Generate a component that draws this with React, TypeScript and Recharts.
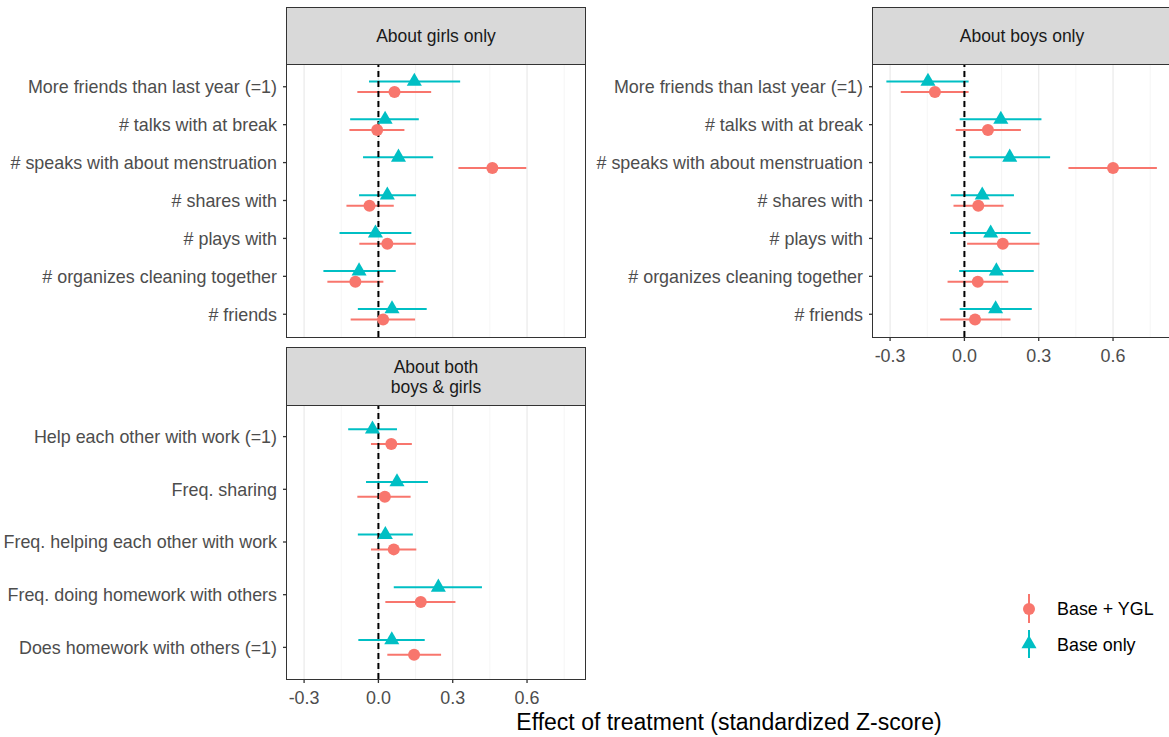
import { ScatterChart, Scatter, XAxis, YAxis, ErrorBar, ReferenceLine } from "recharts";

const FONT = '"Liberation Sans", Arial, Helvetica, sans-serif';
const RED = "#F8766D";
const TEAL = "#00BFC4";
const BORDER = "#333333";

// x scale shared by all panels
const xTicks = [-0.3, 0, 0.3, 0.6];
const xMinor = [-0.15, 0.15, 0.45, 0.75];
const xDomain = [-0.369, 0.834];

// rows, top to bottom
const peerItems = [
  "More friends than last year (=1)",
  "# talks with at break",
  "# speaks with about menstruation",
  "# shares with",
  "# plays with",
  "# organizes cleaning together",
  "# friends",
];
const bothItems = [
  "Help each other with work (=1)",
  "Freq. sharing",
  "Freq. helping each other with work",
  "Freq. doing homework with others",
  "Does homework with others (=1)",
];

// About girls only
const girlsYglEst = [0.065, -0.005, 0.46, -0.036, 0.036, -0.093, 0.019];
const girlsYglLo = [-0.085, -0.117, 0.323, -0.129, -0.077, -0.206, -0.112];
const girlsYglHi = [0.213, 0.105, 0.597, 0.062, 0.151, 0.02, 0.148];
const girlsBaseEst = [0.145, 0.027, 0.081, 0.036, -0.012, -0.078, 0.055];
const girlsBaseLo = [-0.038, -0.114, -0.062, -0.078, -0.157, -0.222, -0.083];
const girlsBaseHi = [0.33, 0.163, 0.221, 0.152, 0.133, 0.07, 0.195];

// About boys only
const boysYglEst = [-0.119, 0.095, 0.6, 0.056, 0.155, 0.054, 0.043];
const boysYglLo = [-0.257, -0.035, 0.42, -0.044, 0.011, -0.068, -0.098];
const boysYglHi = [0.017, 0.228, 0.777, 0.158, 0.303, 0.177, 0.186];
const boysBaseEst = [-0.147, 0.147, 0.183, 0.072, 0.106, 0.129, 0.126];
const boysBaseLo = [-0.315, -0.019, 0.02, -0.055, -0.058, -0.021, -0.019];
const boysBaseHi = [0.017, 0.311, 0.346, 0.2, 0.267, 0.28, 0.272];

// About both boys & girls
const bothYglEst = [0.052, 0.026, 0.062, 0.171, 0.144];
const bothYglLo = [-0.03, -0.085, -0.03, 0.028, 0.036];
const bothYglHi = [0.135, 0.13, 0.153, 0.311, 0.253];
const bothBaseEst = [-0.024, 0.075, 0.028, 0.242, 0.054];
const bothBaseLo = [-0.122, -0.05, -0.083, 0.062, -0.081];
const bothBaseHi = [0.075, 0.2, 0.139, 0.418, 0.187];

const DODGE = 0.14;
const TICK_FONT = 17.9;

function makeRows(est: number[], lo: number[], hi: number[], offset: number) {
  return est.map((v, i) => ({ x: v, y: i + 1 + offset, err: [v - lo[i], hi[i] - v] }));
}

function Dot(props: any) {
  const { cx, cy } = props;
  if (cx == null || cy == null) return null;
  return <circle cx={cx} cy={cy} r={6} fill={RED} />;
}

function Tri(props: any) {
  const { cx, cy } = props;
  if (cx == null || cy == null) return null;
  const u = 5.6;
  const pts = `${cx},${cy - 1.555 * u} ${cx + 1.347 * u},${cy + 0.778 * u} ${cx - 1.347 * u},${cy + 0.778 * u}`;
  return <polygon points={pts} fill={TEAL} />;
}

interface PanelProps {
  labels: string[];
  yglEst: number[];
  yglLo: number[];
  yglHi: number[];
  baseEst: number[];
  baseLo: number[];
  baseHi: number[];
  yAxisWidth: number;
  plotWidth: number;
  plotHeight: number;
  showX: boolean;
}

function Panel(p: PanelProps) {
  const n = p.labels.length;
  const ygl = makeRows(p.yglEst, p.yglLo, p.yglHi, DODGE);
  const base = makeRows(p.baseEst, p.baseLo, p.baseHi, -DODGE);
  const xH = p.showX ? 36 : 0;
  return (
    <ScatterChart
      width={p.yAxisWidth + p.plotWidth + 6}
      height={p.plotHeight + xH}
      margin={{ top: 0, right: 6, bottom: 0, left: 0 }}
      style={{ overflow: "visible" }}
    >
      <XAxis
        type="number"
        dataKey="x"
        domain={xDomain}
        ticks={xTicks}
        allowDataOverflow
        hide={!p.showX}
        height={xH}
        axisLine={false}
        tickSize={4}
        tickMargin={8}
        tickLine={{ stroke: BORDER, strokeWidth: 1.3 }}
        tickFormatter={(v: number) => v.toFixed(1)}
        tick={{ fill: "#4D4D4D", fontSize: TICK_FONT, fontFamily: FONT }}
      />
      <YAxis
        type="number"
        dataKey="y"
        domain={[0.4, n + 0.6]}
        ticks={p.labels.map((_, i) => i + 1)}
        interval={0}
        reversed
        allowDataOverflow
        width={p.yAxisWidth}
        axisLine={false}
        tickSize={4}
        tickMargin={6}
        tickLine={{ stroke: BORDER, strokeWidth: 1.3 }}
        tickFormatter={(v: number) => p.labels[Math.round(v) - 1] ?? ""}
        tick={{ fill: "#4D4D4D", fontSize: TICK_FONT, fontFamily: FONT }}
      />
      {xTicks.map((v) => (
        <ReferenceLine key={"M" + v} x={v} stroke="#EBEBEB" strokeWidth={1.3} />
      ))}
      {xMinor.map((v) => (
        <ReferenceLine key={"m" + v} x={v} stroke="#F2F2F2" strokeWidth={0.8} />
      ))}
      <Scatter data={ygl} shape={<Dot />} isAnimationActive={false}>
        <ErrorBar dataKey="err" direction="x" width={0} stroke={RED} strokeWidth={2} isAnimationActive={false} />
      </Scatter>
      <Scatter data={base} shape={<Tri />} isAnimationActive={false}>
        <ErrorBar dataKey="err" direction="x" width={0} stroke={TEAL} strokeWidth={2} isAnimationActive={false} />
      </Scatter>
      <ReferenceLine x={0} stroke="#000" strokeWidth={2} strokeDasharray="6 4" />
    </ScatterChart>
  );
}

function Frame({ left, top, width, height }: { left: number; top: number; width: number; height: number }) {
  return (
    <div
      style={{
        position: "absolute",
        left: left - 0.75,
        top: top - 0.75,
        width: width + 1.5,
        height: height + 1.5,
        boxSizing: "border-box",
        border: `1.5px solid ${BORDER}`,
        pointerEvents: "none",
      }}
    />
  );
}

function Strip({ left, top, width, height, lines }: { left: number; top: number; width: number; height: number; lines: string[] }) {
  return (
    <div
      style={{
        position: "absolute",
        left: left - 0.75,
        top: top - 0.75,
        width: width + 1.5,
        height: height + 1.5,
        boxSizing: "border-box",
        border: `1.5px solid ${BORDER}`,
        background: "#D9D9D9",
        display: "flex",
        flexDirection: "column",
        alignItems: "center",
        justifyContent: "center",
        fontFamily: FONT,
        fontSize: 17.5,
        color: "#1A1A1A",
        lineHeight: "20px",
      }}
    >
      {lines.map((l) => (
        <div key={l}>{l}</div>
      ))}
    </div>
  );
}

function Legend() {
  const u = 5.6;
  return (
    <svg width={170} height={90} style={{ position: "absolute", left: 1000, top: 580, overflow: "visible" }}>
      <line x1={29} x2={29} y1={14} y2={43} stroke={RED} strokeWidth={2} />
      <circle cx={29} cy={29} r={6} fill={RED} />
      <line x1={29} x2={29} y1={50} y2={78} stroke={TEAL} strokeWidth={2} />
      <polygon
        points={`29,${64 - 1.555 * u} ${29 + 1.347 * u},${64 + 0.778 * u} ${29 - 1.347 * u},${64 + 0.778 * u}`}
        fill={TEAL}
      />
      <text x={57} y={29} dy="0.36em" fontFamily={FONT} fontSize={TICK_FONT} fill="#000">
        Base + YGL
      </text>
      <text x={57} y={65} dy="0.36em" fontFamily={FONT} fontSize={TICK_FONT} fill="#000">
        Base only
      </text>
    </svg>
  );
}

export default function App() {
  return (
    <div
      style={{
        position: "absolute",
        left: 0,
        top: 0,
        width: 1169,
        height: 737,
        overflow: "hidden",
        background: "#fff",
        fontFamily: FONT,
      }}
    >
      <div style={{ position: "absolute", left: 0, top: 64 }}>
        <Panel
          labels={peerItems}
          yglEst={girlsYglEst}
          yglLo={girlsYglLo}
          yglHi={girlsYglHi}
          baseEst={girlsBaseEst}
          baseLo={girlsBaseLo}
          baseHi={girlsBaseHi}
          yAxisWidth={287}
          plotWidth={298}
          plotHeight={273}
          showX={false}
        />
      </div>
      <div style={{ position: "absolute", left: 590, top: 64 }}>
        <Panel
          labels={peerItems}
          yglEst={boysYglEst}
          yglLo={boysYglLo}
          yglHi={boysYglHi}
          baseEst={boysBaseEst}
          baseLo={boysBaseLo}
          baseHi={boysBaseHi}
          yAxisWidth={283}
          plotWidth={298}
          plotHeight={273}
          showX={true}
        />
      </div>
      <div style={{ position: "absolute", left: 0, top: 405 }}>
        <Panel
          labels={bothItems}
          yglEst={bothYglEst}
          yglLo={bothYglLo}
          yglHi={bothYglHi}
          baseEst={bothBaseEst}
          baseLo={bothBaseLo}
          baseHi={bothBaseHi}
          yAxisWidth={287}
          plotWidth={298}
          plotHeight={274}
          showX={true}
        />
      </div>

      <Frame left={287} top={64} width={298} height={273} />
      <Frame left={873} top={64} width={298} height={273} />
      <Frame left={287} top={405} width={298} height={274} />

      <Strip left={287} top={8} width={298} height={56} lines={["About girls only"]} />
      <Strip left={873} top={8} width={298} height={56} lines={["About boys only"]} />
      <Strip left={287} top={348} width={298} height={57} lines={["About both", "boys & girls"]} />

      <div
        style={{
          position: "absolute",
          left: 287,
          width: 884,
          top: 708,
          textAlign: "center",
          fontSize: 23,
          color: "#000",
          lineHeight: "28px",
        }}
      >
        Effect of treatment (standardized Z-score)
      </div>
      <Legend />
    </div>
  );
}
